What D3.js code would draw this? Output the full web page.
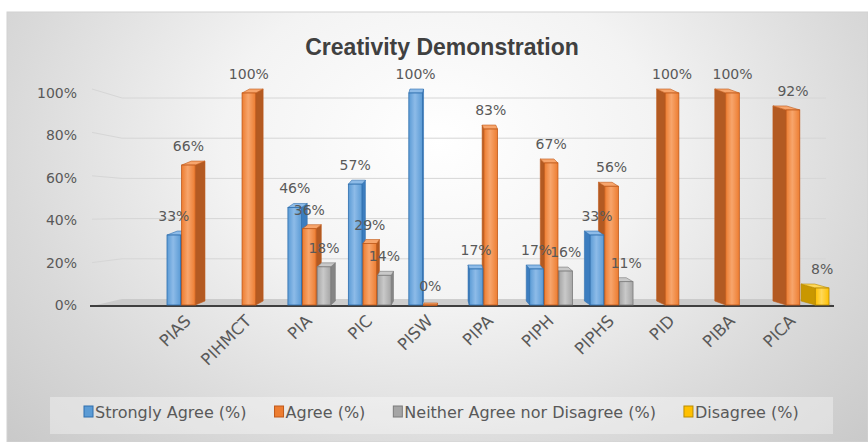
<!DOCTYPE html>
<html>
<head>
<meta charset="utf-8">
<script src="https://cdn.jsdelivr.net/npm/d3@7/dist/d3.min.js"></script>
<style>
  html, body { margin: 0; padding: 0; background: #ffffff; }
  svg { display: block; }
  text { font-family: "DejaVu Sans", "Liberation Sans", sans-serif; }
</style>
</head>
<body>
<svg id="chart" width="868" height="442"></svg>
<script>
// ---- data ----
const categories = ["PIAS", "PIHMCT", "PIA", "PIC", "PISW", "PIPA", "PIPH", "PIPHS", "PID", "PIBA", "PICA"];
const seriesNames = ["Strongly Agree (%)", "Agree (%)", "Neither Agree nor Disagree (%)", "Disagree (%)"];
const stronglyAgree = [33, null, 46, 57, 100, 17, 17, 33, null, null, null];
const agree         = [66, 100, 36, 29, 0, 83, 67, 56, 100, 100, 92];
const neither       = [null, null, 18, 14, null, null, 16, 11, null, null, null];
const disagree      = [null, null, null, null, null, null, null, null, null, null, 8];
const yTicks = [0, 20, 40, 60, 80, 100];
const titleText = "Creativity Demonstration";

const seriesValues = [stronglyAgree, agree, neither, disagree];
const palette = [
  { base: "#5b9bd5", light: "#8dbbe8", dark: "#2f6fae", side: "#3c7dbf" },
  { base: "#ed7d31", light: "#f7a56c", dark: "#c0591a", side: "#b35a22" },
  { base: "#a5a5a5", light: "#c9c9c9", dark: "#7b7b7b", side: "#858585" },
  { base: "#ffc000", light: "#ffd858", dark: "#b98b00", side: "#c99700" }
];

const svg = d3.select("#chart");
const W = 868, H = 442;

// ---- background panel ----
const defs = svg.append("defs");
const bg = defs.append("radialGradient").attr("id", "bgGrad")
  .attr("gradientUnits", "userSpaceOnUse")
  .attr("cx", 440).attr("cy", 140).attr("r", 620)
  .attr("gradientTransform", "translate(440,140) scale(1,0.75) translate(-440,-140)");
bg.append("stop").attr("offset", "0%").attr("stop-color", "#ffffff");
bg.append("stop").attr("offset", "35%").attr("stop-color", "#f3f3f3");
bg.append("stop").attr("offset", "70%").attr("stop-color", "#d9d9d9");
bg.append("stop").attr("offset", "100%").attr("stop-color", "#c6c6c6");

svg.append("rect").attr("x", 7).attr("y", 12).attr("width", W - 7).attr("height", H - 12)
  .attr("fill", "url(#bgGrad)").attr("stroke", "#d2d2d2").attr("stroke-width", 1);

// bar face gradients
palette.forEach((p, i) => {
  const g = defs.append("linearGradient").attr("id", "front" + i)
    .attr("x1", "0%").attr("x2", "100%").attr("y1", "0%").attr("y2", "0%");
  g.append("stop").attr("offset", "0%").attr("stop-color", p.base);
  g.append("stop").attr("offset", "45%").attr("stop-color", p.light);
  g.append("stop").attr("offset", "100%").attr("stop-color", p.base);
});

// ---- scales ----
const y = d3.scaleLinear().domain([0, 100]).range([305, 93]);
const yBack = d3.scaleLinear().domain([0, 100]).range([299, 98]);
const yWall = d3.scaleLinear().domain([0, 100]).range([306, 89]);
const x0 = d3.scaleBand().domain(categories).range([165, 830]).paddingInner(0).paddingOuter(0);
const x1 = d3.scaleBand().domain(d3.range(seriesNames.length)).range([2, x0.bandwidth()]).padding(0);

// ---- title ----
svg.append("text").attr("x", 442).attr("y", 55).attr("text-anchor", "middle")
  .style("font-family", "'Liberation Sans', Arial, sans-serif")
  .style("font-size", "23px").style("font-weight", "bold").attr("fill", "#404040")
  .text(titleText);

// ---- gridlines on walls ----
const grid = svg.append("g");
yTicks.filter(v => v > 0).forEach(v => {
  grid.append("path")
    .attr("d", `M92,${yWall(v)} L122,${yBack(v)} L826,${yBack(v)}`)
    .attr("fill", "none").attr("stroke", "#d6d6d6").attr("stroke-width", 1);
});

// ---- y axis labels ----
svg.append("g").selectAll("text").data(yTicks).join("text")
  .attr("x", 77).attr("y", d => y(d) + 5).attr("text-anchor", "end")
  .style("font-size", "14px").attr("fill", "#595959")
  .text(d => d + "%");

// ---- floor ----
svg.append("path")
  .attr("d", `M92,306 L122,299 L826,299 L834,306 Z`)
  .attr("fill", "#c4c4c4").attr("opacity", 0.8);
svg.append("line").attr("x1", 90).attr("x2", 834).attr("y1", 306).attr("y2", 306)
  .attr("stroke", "#3f3f3f").attr("stroke-width", 2);

// ---- bars (pseudo-3D prisms) ----
const vanishX = 445, depthK = 0.038, depthY = 4;
const bars = [];
categories.forEach((c, ci) => {
  seriesValues.forEach((vals, si) => {
    const v = vals[ci];
    if (v === null || v === undefined) return;
    const xl = x0(c) + x1(si);
    const w = x1.bandwidth() - 1;
    bars.push({ c, si, v, xl, w, xc: xl + w / 2 });
  });
});
// draw bars farthest from the vanishing point first
bars.sort((a, b) => Math.abs(b.xc - vanishX) - Math.abs(a.xc - vanishX));

const barG = svg.append("g");
bars.forEach(b => {
  const p = palette[b.si];
  const top = y(b.v), bot = y(0);
  const dx = (vanishX - b.xc) * depthK;
  const dy = b.v === 0 ? 2 : depthY;
  const xl = b.xl, xr = b.xl + b.w;
  const g = barG.append("g");
  // side face
  const sx = dx >= 0 ? xr : xl;
  g.append("path")
    .attr("d", `M${sx},${top} L${sx + dx},${top - dy} L${sx + dx},${bot - dy} L${sx},${bot} Z`)
    .attr("fill", p.side).attr("stroke", p.dark).attr("stroke-width", 0.6);
  // top face
  g.append("path")
    .attr("d", `M${xl},${top} L${xr},${top} L${xr + dx},${top - dy} L${xl + dx},${top - dy} Z`)
    .attr("fill", p.light).attr("stroke", p.dark).attr("stroke-width", 0.6);
  // front face
  g.append("rect").attr("x", xl).attr("y", top).attr("width", b.w).attr("height", Math.max(bot - top, 0.5))
    .attr("fill", `url(#front${b.si})`).attr("stroke", p.dark).attr("stroke-width", 0.8);
});

// ---- value labels ----
const labelG = svg.append("g");
bars.forEach(b => {
  labelG.append("text")
    .attr("x", b.xc).attr("y", y(b.v) - 14).attr("text-anchor", "middle")
    .style("font-size", "14px").attr("fill", "#595959")
    .text(b.v + "%");
});

// ---- category labels ----
svg.append("g").selectAll("text").data(categories).join("text")
  .attr("text-anchor", "end")
  .attr("transform", d => `translate(${x0(d) + 27},${322}) rotate(-45)`)
  .style("font-size", "16.5px").attr("fill", "#595959")
  .text(d => d);

// ---- legend ----
const legend = svg.append("g");
legend.append("rect").attr("x", 50).attr("y", 397).attr("width", 783).attr("height", 37)
  .attr("fill", "#ffffff").attr("opacity", 0.35);
let lx = 84;
seriesNames.forEach((name, i) => {
  const p = palette[i];
  legend.append("rect").attr("x", lx).attr("y", 406).attr("width", 9).attr("height", 11)
    .attr("fill", p.base).attr("stroke", p.dark).attr("stroke-width", 1);
  const t = legend.append("text").attr("x", lx + 11).attr("y", 418)
    .style("font-size", "16px").attr("fill", "#595959").text(name);
  lx += 11 + t.node().getComputedTextLength() + 28;
});
</script>
</body>
</html>
